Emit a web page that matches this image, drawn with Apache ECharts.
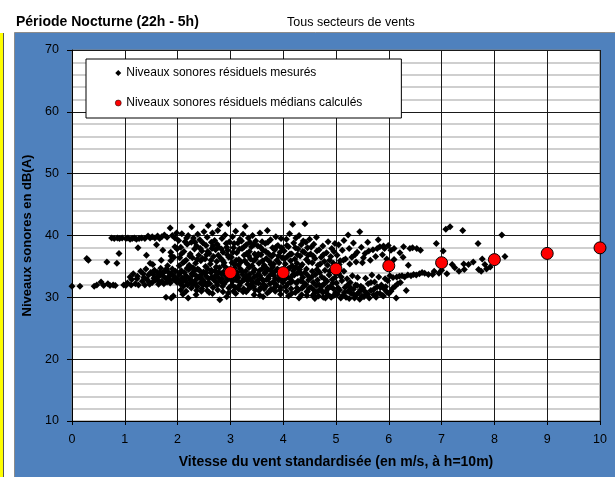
<!DOCTYPE html>
<html><head><meta charset="utf-8">
<script src="https://cdn.jsdelivr.net/npm/echarts@6/dist/echarts.min.js"></script>
<style>html,body{margin:0;padding:0;background:#fff}#c{width:615px;height:477px}</style>
</head><body><div id="c"></div>
<script>
var titleMain = 'Période Nocturne (22h - 5h)';
var titleSub = 'Tous secteurs de vents';
var xName = 'Vitesse du vent standardisée (en m/s, à h=10m)';
var yName = 'Niveaux sonores en dB(A)';
var seriesNames = ['Niveaux sonores résiduels mesurés', 'Niveaux sonores résiduels médians calculés'];

var medianWind = [3, 4, 5, 6, 7, 8, 9, 10];
var medianLevel = [34.0, 34.0, 34.6, 35.1, 35.6, 36.1, 37.1, 38.0];

var measured = [
[0.0,31.8],[0.15,31.8],[0.28,36.3],[0.31,36.0],[0.42,31.8],[0.47,32.0],
[0.55,32.5],[0.6,31.9],[0.66,35.7],[0.68,32.2],[0.72,31.9],[0.75,39.6],[0.78,32.0],[0.8,39.5],[0.82,31.9],[0.85,35.5],[0.86,39.6],[0.89,37.1],[0.9,39.5],[0.95,39.6],[0.98,32.0],
[1.02,39.5],[1.06,39.6],[1.1,39.4],[1.14,39.5],[1.18,39.6],[1.22,39.4],[1.27,39.5],[1.32,39.6],[1.38,39.5],[1.44,39.9],[1.48,39.6],
[1.25,38.0],[1.41,36.8],[1.48,35.5],
[1.02,31.9],[1.05,32.3],[1.1,33.3],[1.12,32.0],[1.16,33.8],[1.2,32.2],[1.24,33.4],[1.26,32.0],[1.3,34.2],[1.33,32.6],[1.36,33.2],[1.38,32.0],[1.4,34.6],[1.42,32.9],[1.45,33.6],[1.47,32.1],[1.49,34.0],
[1.13,32.9],[1.23,33.0],[1.35,33.8],[1.46,32.5],[1.55,33.1],[1.63,32.7],[1.67,34.0],[1.73,33.4],[1.79,34.6],[1.85,32.8],[1.91,33.6],[1.97,33.0],[1.53,35.3],[1.69,36.0],[1.81,35.1],
[1.52,39.8],[1.57,39.6],[1.62,39.9],[1.66,39.5],[1.7,39.8],[1.75,40.1],[1.8,39.7],[1.86,41.2],[1.9,40.0],[1.95,39.6],[1.98,40.4],
[1.87,37.3],[1.88,36.7],[1.87,35.9],[1.6,38.5],[1.72,37.6],[1.95,38.2],[1.93,36.5],[1.99,37.8],
[1.52,32.4],[1.54,33.7],[1.56,34.4],[1.58,32.8],[1.6,33.2],[1.62,34.0],[1.64,32.1],[1.66,33.5],[1.68,34.7],[1.7,32.6],[1.72,33.9],[1.74,32.2],[1.76,34.3],[1.78,33.0],[1.8,32.5],[1.82,34.1],[1.84,33.4],[1.86,32.3],[1.88,33.8],[1.9,34.6],[1.92,32.9],[1.94,33.3],[1.96,34.2],[1.98,32.5],[1.78,30.0],[1.88,29.9],[1.92,30.2],
[2.02,39.2],[2.04,36.4],[2.06,38.1],[2.08,40.3],[2.1,35.6],[2.12,37.4],[2.14,39.0],[2.16,36.0],[2.18,38.6],[2.2,40.0],[2.22,35.2],[2.24,37.0],[2.26,38.9],[2.27,41.4],[2.28,36.4],[2.3,39.6],[2.32,37.8],[2.34,35.5],[2.36,38.3],[2.38,40.2],[2.4,36.8],[2.42,39.3],[2.44,35.9],[2.46,37.5],[2.48,38.8],[2.5,40.6],
[2.03,35.1],[2.07,37.0],[2.13,35.8],[2.17,39.6],[2.23,36.7],[2.29,34.8],[2.33,38.9],[2.37,36.1],[2.43,37.9],[2.47,36.3],[2.53,35.0],[2.57,37.4],[2.63,36.0],[2.67,38.3],[2.73,34.9],[2.77,36.8],[2.83,37.8],[2.87,35.2],[2.93,38.1],[2.97,36.5],
[2.01,32.8],[2.03,33.6],[2.05,32.2],[2.07,34.3],[2.09,33.1],[2.11,31.8],[2.13,34.0],[2.15,32.6],[2.17,33.4],[2.19,32.0],[2.21,34.5],[2.23,33.0],[2.25,32.4],[2.27,33.8],[2.29,32.1],[2.31,34.2],[2.33,32.7],[2.35,33.5],[2.37,31.7],[2.39,33.2],[2.41,34.4],[2.43,32.3],[2.45,33.7],[2.47,32.9],[2.49,34.1],[2.1,30.5],[2.2,29.9],[2.35,30.4],[2.45,31.0],
[2.04,33.9],[2.08,32.5],[2.14,33.3],[2.18,34.7],[2.24,32.8],[2.28,33.6],[2.34,32.2],[2.38,34.6],[2.44,33.1],[2.48,32.0],[2.54,33.4],[2.58,32.3],[2.64,34.4],[2.68,33.1],[2.74,32.4],[2.78,34.1],[2.84,33.0],[2.88,32.2],[2.94,33.4],[2.98,34.4],
[2.06,31.2],[2.16,31.0],[2.26,31.5],[2.36,31.1],[2.46,31.4],[2.56,31.1],[2.66,30.6],[2.76,31.2],[2.86,30.9],[2.96,30.7],
[2.52,36.2],[2.54,38.4],[2.56,39.7],[2.58,41.6],[2.6,37.1],[2.62,35.4],[2.64,38.9],[2.66,40.4],[2.68,36.6],[2.7,39.2],[2.72,37.7],[2.74,35.8],[2.76,40.8],[2.78,38.1],[2.8,41.7],[2.82,36.3],[2.84,39.5],[2.86,37.3],[2.88,35.6],[2.9,40.1],[2.92,38.7],[2.94,36.9],[2.96,41.9],[2.98,39.0],[2.55,36.9],[2.65,37.9],[2.75,38.6],[2.85,36.0],[2.95,37.6],
[2.51,32.5],[2.53,33.9],[2.55,31.9],[2.57,34.6],[2.59,33.0],[2.61,32.2],[2.63,34.0],[2.65,33.3],[2.67,31.6],[2.69,32.8],[2.71,34.3],[2.73,33.6],[2.75,32.0],[2.77,33.2],[2.79,34.8],[2.81,32.6],[2.83,33.8],[2.85,31.8],[2.87,34.1],[2.89,32.4],[2.91,33.5],[2.93,34.7],[2.95,32.9],[2.97,31.5],[2.99,33.7],[2.6,30.8],[2.8,29.6],[2.93,30.1],
[3.02,36.5],[3.04,39.8],[3.06,38.0],[3.08,35.3],[3.1,40.7],[3.12,37.2],[3.14,38.8],[3.16,36.1],[3.18,39.4],[3.2,35.7],[3.22,37.9],[3.24,40.2],[3.26,36.8],[3.28,41.5],[3.3,38.5],[3.32,35.4],[3.34,39.6],[3.36,37.4],[3.38,36.2],[3.4,38.2],[3.42,40.0],[3.44,35.9],[3.46,37.0],[3.48,39.1],[3.5,36.6],[3.05,37.3],[3.15,35.2],[3.25,38.1],[3.35,36.7],[3.45,38.6],
[3.03,35.6],[3.07,38.7],[3.11,36.0],[3.17,37.8],[3.21,39.1],[3.27,35.9],[3.31,37.1],[3.37,38.9],[3.41,35.1],[3.47,36.1],[3.53,37.0],[3.57,38.1],[3.61,35.9],[3.67,37.4],[3.71,38.9],[3.77,35.3],[3.81,36.9],[3.87,38.2],[3.91,36.7],[3.97,38.0],
[3.01,33.1],[3.03,32.0],[3.05,34.4],[3.07,33.5],[3.09,31.6],[3.11,32.8],[3.13,34.0],[3.15,33.2],[3.17,31.9],[3.19,34.6],[3.21,32.5],[3.23,33.7],[3.25,31.4],[3.27,32.9],[3.29,34.2],[3.31,33.4],[3.33,32.1],[3.35,34.8],[3.37,33.0],[3.39,31.7],[3.41,32.6],[3.43,34.1],[3.45,33.3],[3.47,31.2],[3.49,32.4],[3.1,30.6],[3.3,30.9],[3.45,30.4],
[3.04,32.6],[3.08,34.7],[3.12,33.6],[3.18,32.4],[3.22,34.2],[3.26,33.0],[3.32,32.8],[3.36,33.7],[3.42,32.3],[3.46,34.5],[3.52,32.8],[3.56,33.5],[3.62,32.1],[3.66,34.1],[3.72,33.0],[3.76,34.4],[3.82,33.6],[3.86,32.1],[3.92,34.3],[3.96,33.0],
[3.06,31.0],[3.16,31.3],[3.24,30.9],[3.34,31.3],[3.44,31.7],[3.54,31.1],[3.64,31.4],[3.74,31.0],[3.84,31.6],[3.94,31.2],
[3.52,38.3],[3.54,35.5],[3.56,40.4],[3.58,36.9],[3.6,39.0],[3.62,37.6],[3.64,35.2],[3.66,38.7],[3.68,36.3],[3.7,40.8],[3.72,37.1],[3.74,35.8],[3.76,39.3],[3.78,36.6],[3.8,38.0],[3.82,35.4],[3.84,37.7],[3.86,39.8],[3.88,36.0],[3.9,38.4],[3.92,35.6],[3.94,37.3],[3.96,39.5],[3.98,36.4],
[3.51,33.6],[3.53,32.3],[3.55,34.3],[3.57,31.5],[3.59,33.0],[3.61,34.7],[3.63,32.7],[3.65,33.9],[3.67,31.8],[3.69,32.9],[3.71,34.5],[3.73,33.4],[3.75,32.2],[3.77,31.3],[3.79,33.8],[3.81,32.5],[3.83,34.1],[3.85,33.1],[3.87,31.9],[3.89,34.6],[3.91,32.8],[3.93,33.5],[3.95,31.6],[3.97,34.0],[3.99,32.4],[3.56,30.3],[3.62,30.1],[3.7,30.7],[3.85,31.0],[3.95,30.5],[3.65,35.0],[3.8,34.9],
[4.02,37.5],[4.04,35.4],[4.06,39.4],[4.08,36.6],[4.1,38.2],[4.12,40.3],[4.14,35.9],[4.16,37.0],[4.18,41.8],[4.2,38.8],[4.22,36.2],[4.24,39.6],[4.26,35.5],[4.28,37.8],[4.3,40.0],[4.32,36.7],[4.34,38.5],[4.36,35.3],[4.38,39.1],[4.4,37.3],[4.41,41.9],[4.44,36.1],[4.46,38.0],[4.48,35.7],[4.5,39.4],
[4.03,36.3],[4.07,38.4],[4.13,37.0],[4.17,35.1],[4.23,38.0],[4.27,36.9],[4.33,35.0],[4.37,37.4],[4.43,38.9],[4.47,36.8],[4.53,38.1],[4.57,36.7],[4.64,37.5],[4.7,35.4],[4.76,36.9],[4.84,35.2],[4.9,36.6],[4.96,37.4],
[4.01,32.9],[4.03,34.1],[4.05,31.7],[4.07,33.4],[4.09,32.2],[4.11,34.7],[4.13,33.0],[4.15,31.4],[4.17,32.6],[4.19,34.3],[4.21,33.6],[4.23,30.8],[4.25,32.3],[4.27,33.9],[4.29,31.2],[4.31,34.5],[4.33,32.7],[4.35,30.4],[4.37,33.2],[4.39,31.8],[4.41,34.0],[4.43,32.1],[4.45,30.9],[4.47,33.5],[4.49,31.5],[4.1,30.2],[4.3,29.9],[4.45,30.3],
[4.04,33.0],[4.08,34.5],[4.14,32.4],[4.18,33.6],[4.24,34.8],[4.28,32.6],[4.34,33.8],[4.38,32.4],[4.44,34.6],[4.48,32.8],[4.54,33.3],[4.58,31.2],[4.64,34.5],[4.68,32.0],[4.74,31.9],[4.78,33.0],[4.84,31.5],[4.88,34.2],[4.94,32.3],[4.98,33.2],
[4.06,31.0],[4.16,30.6],[4.26,31.5],[4.36,31.5],[4.46,31.0],[4.56,30.3],[4.66,31.0],[4.76,30.0],[4.86,31.5],[4.96,30.3],
[4.52,37.0],[4.55,35.6],[4.58,38.6],[4.6,36.3],[4.63,39.7],[4.66,35.2],[4.68,37.7],[4.72,36.5],[4.75,38.3],[4.78,35.8],[4.82,37.2],[4.85,39.0],[4.88,36.0],[4.92,37.9],[4.95,35.5],[4.98,38.7],
[4.51,33.1],[4.53,31.6],[4.55,34.2],[4.57,32.4],[4.59,30.6],[4.61,33.7],[4.63,31.9],[4.65,32.8],[4.67,30.2],[4.69,34.0],[4.71,31.3],[4.73,33.3],[4.75,30.8],[4.77,32.1],[4.79,34.4],[4.81,31.0],[4.83,32.6],[4.85,30.4],[4.87,33.6],[4.89,31.7],[4.91,30.0],[4.93,32.9],[4.95,31.4],[4.97,34.1],[4.99,30.7],[4.6,29.8],[4.8,29.9],[4.9,30.1],
[5.02,36.8],[5.05,38.5],[5.08,35.9],[5.12,37.6],[5.15,39.2],[5.18,36.2],[5.23,40.1],[5.25,37.9],[5.3,36.5],[5.33,38.8],[5.38,35.7],[5.4,37.3],[5.45,40.6],[5.48,38.1],
[5.06,35.3],[5.14,36.0],[5.26,35.4],[5.36,36.9],[5.5,35.6],[5.62,37.5],[5.78,37.9],[5.9,38.3],
[5.01,32.3],[5.03,30.5],[5.05,33.8],[5.07,31.2],[5.09,29.9],[5.11,32.7],[5.13,30.3],[5.15,34.2],[5.17,31.6],[5.19,30.0],[5.21,33.0],[5.23,31.0],[5.25,29.8],[5.27,32.4],[5.29,30.6],[5.31,33.5],[5.33,31.3],[5.35,29.9],[5.37,32.0],[5.39,30.4],[5.41,33.2],[5.43,30.8],[5.45,29.7],[5.47,31.8],[5.49,30.2],
[5.04,31.5],[5.1,33.3],[5.16,30.8],[5.22,32.0],[5.28,31.5],[5.34,30.4],[5.4,31.9],[5.46,31.2],[5.54,31.0],[5.6,30.5],[5.66,32.4],[5.72,31.3],[5.78,30.6],[5.84,31.6],[5.9,30.2],[5.94,31.7],
[5.52,36.4],[5.55,37.1],[5.6,38.9],[5.65,36.0],[5.7,37.7],[5.75,36.6],[5.8,39.3],[5.83,38.2],[5.88,36.9],[5.92,37.9],[5.96,36.2],[5.99,38.4],
[5.51,31.5],[5.53,30.1],[5.56,33.1],[5.58,30.7],[5.61,32.2],[5.63,29.9],[5.66,31.1],[5.68,33.6],[5.71,30.4],[5.73,32.5],[5.76,30.0],[5.78,31.7],[5.81,33.3],[5.83,30.6],[5.86,32.0],[5.88,30.3],[5.91,31.4],[5.93,33.0],[5.96,30.9],[5.98,32.7],
[6.04,37.6],[6.1,37.9],[6.21,37.2],[6.28,38.2],[6.4,37.9],[6.53,37.9],[6.6,37.6],[6.27,36.5],[6.37,35.2],[6.1,36.1],[6.45,38.0],
[6.9,38.7],[7.03,37.5],[7.08,41.0],[7.16,41.4],[7.4,40.8],[7.69,38.7],[7.6,35.7],[7.77,36.2],[7.82,35.3],[7.85,34.6],[7.51,35.3],[7.42,35.4],[7.33,34.2],[7.43,34.5],[7.2,35.3],[6.86,34.2],[6.83,33.7],[6.75,33.7],
[6.02,33.5],[6.08,33.2],[6.15,33.3],[6.2,33.4],[6.25,33.5],[6.3,33.3],[6.36,33.6],[6.42,33.5],[6.47,33.7],[6.52,33.6],[6.58,33.8],[6.63,34.0],[6.68,33.9],
[6.0,30.6],[6.04,31.0],[6.08,31.5],[6.12,31.8],[6.17,32.2],[6.22,32.4],[6.33,31.1],[6.14,29.9],
[8.14,40.1],[8.2,36.6],[7.92,34.9],[7.7,34.5],[7.75,34.2],[7.0,34.4],[6.95,33.9],[7.1,33.8],[7.25,34.8]
];

var medianData = medianWind.map(function (w, i) { return [w, medianLevel[i]]; });

var chart = echarts.init(document.getElementById('c'), null, {renderer: 'canvas'});
var F = 'Liberation Sans, Arial, sans-serif';
chart.setOption({
  animation: false,
  backgroundColor: '#ffffff',
  graphic: [
    {type: 'rect', z: -10, shape: {x: 0, y: 33, width: 3, height: 444}, style: {fill: '#ffff00'}},
    {type: 'line', z: -10, shape: {x1: 3.5, y1: 33, x2: 3.5, y2: 477}, style: {stroke: '#555', lineWidth: 1}},
    {type: 'rect', z: -10, shape: {x: 14.5, y: 32.5, width: 602, height: 446}, style: {fill: '#4f81bd', stroke: '#8c8c8c', lineWidth: 1}}
  ],
  title: [
    {text: titleMain, left: 11, top: 10, textStyle: {fontFamily: F, fontSize: 14, fontWeight: 'bold', color: '#000'}},
    {text: titleSub, left: 282, top: 11, textStyle: {fontFamily: F, fontSize: 12.5, fontWeight: 'normal', color: '#000'}}
  ],
  legend: {
    orient: 'vertical',
    left: 86, top: 59,
    padding: [7, 39, 8, 29],
    itemGap: 16,
    itemWidth: 6, itemHeight: 6,
    backgroundColor: '#ffffff',
    borderColor: '#000', borderWidth: 1,
    textStyle: {fontFamily: F, fontSize: 12, color: '#000', lineHeight: 14},
    data: [
      {name: seriesNames[0], icon: 'diamond', itemStyle: {color: '#000'}},
      {name: seriesNames[1], icon: 'circle', itemStyle: {color: '#ff0000', borderColor: '#000', borderWidth: 0.5}}
    ]
  },
  grid: {left: 72, right: 15, top: 50, bottom: 56, show: true, backgroundColor: '#ffffff', borderColor: '#808080', borderWidth: 1},
  xAxis: {
    type: 'value', min: 0, max: 10, interval: 1,
    name: xName, nameLocation: 'middle', nameGap: 34,
    nameTextStyle: {fontFamily: F, fontSize: 14, fontWeight: 'bold', color: '#000'},
    axisLine: {show: true, onZero: false, lineStyle: {color: '#000', width: 1}},
    axisTick: {show: true, length: 4, lineStyle: {color: '#000'}},
    axisLabel: {fontFamily: F, fontSize: 12.5, color: '#000', margin: 12},
    splitLine: {show: true, lineStyle: {color: '#1a1a1a', width: 1}}
  },
  yAxis: {
    type: 'value', min: 10, max: 70, interval: 10,
    name: yName, nameLocation: 'middle', nameGap: 33, nameRotate: 90,
    nameTextStyle: {fontFamily: F, fontSize: 13, fontWeight: 'bold', color: '#000'},
    axisLine: {show: true, onZero: false, lineStyle: {color: '#000', width: 1}},
    axisTick: {show: true, length: 5, lineStyle: {color: '#000'}},
    axisLabel: {fontFamily: F, fontSize: 12.5, color: '#000', margin: 13},
    splitLine: {show: true, lineStyle: {color: '#1a1a1a', width: 1}},
    minorTick: {show: false, splitNumber: 5},
    minorSplitLine: {show: true, lineStyle: {color: '#c0c0c0', width: 1.5}}
  },
  series: [
    {name: seriesNames[0], type: 'scatter', symbol: 'diamond', symbolSize: 7, z: 2,
     itemStyle: {color: '#000', opacity: 1}, data: measured},
    {name: seriesNames[1], type: 'scatter', symbol: 'circle', symbolSize: 12, z: 3,
     itemStyle: {color: '#ff0000', borderColor: '#000', borderWidth: 1, opacity: 1}, data: medianData}
  ]
});
</script></body></html>
